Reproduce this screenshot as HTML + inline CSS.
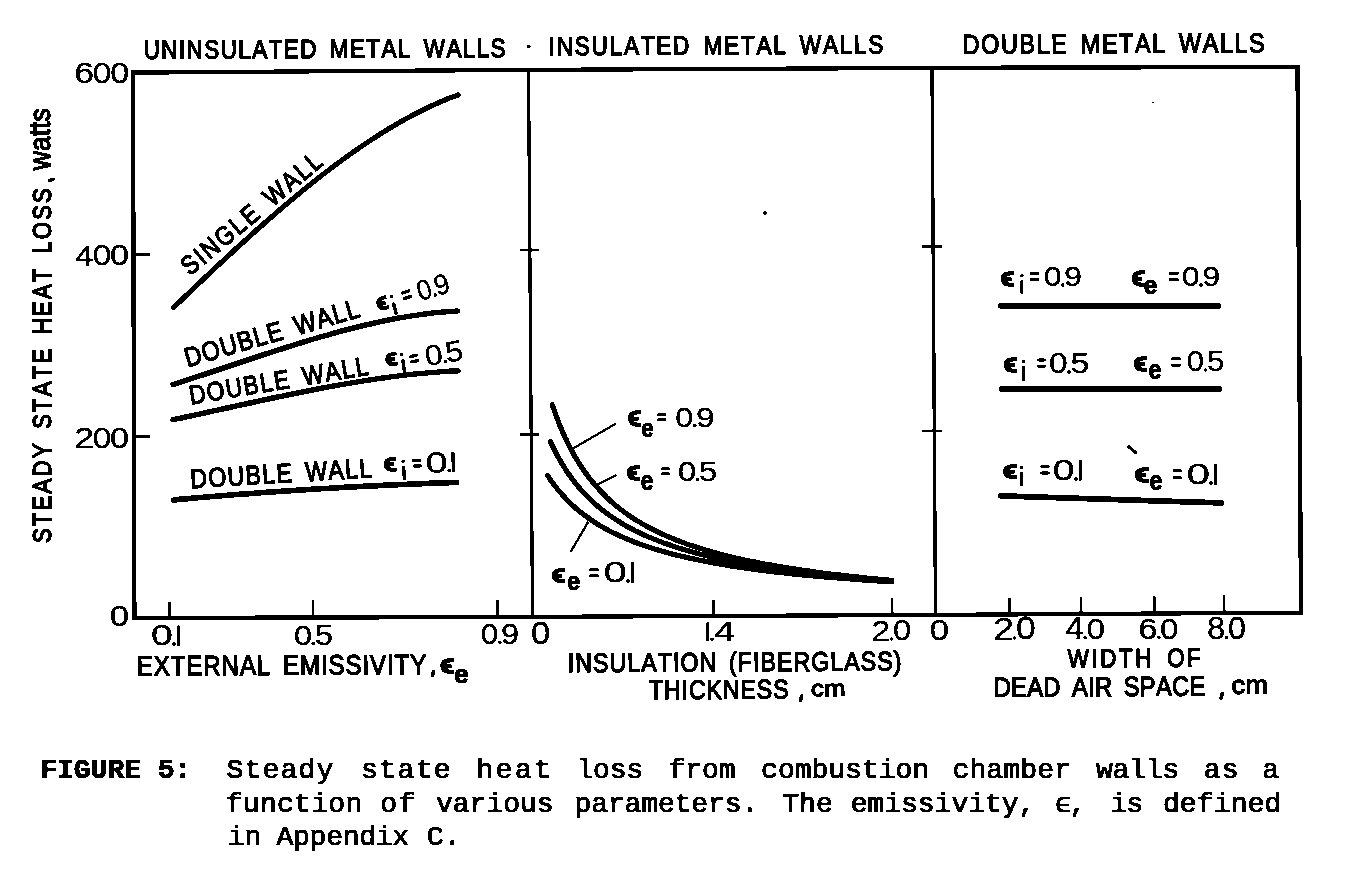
<!DOCTYPE html>
<html><head><meta charset="utf-8"><title>Figure 5</title>
<style>html,body{margin:0;padding:0;background:#fff;overflow:hidden}svg{display:block}text{font-kerning:none}</style>
</head><body>
<svg width="1360" height="881" viewBox="0 0 1360 881" style="font-kerning:none">
<defs><filter id="bin" x="0" y="0" width="1360" height="881" filterUnits="userSpaceOnUse"><feComponentTransfer><feFuncA type="discrete" tableValues="0 1"/></feComponentTransfer></filter></defs>
<g filter="url(#bin)">
<path d="M133.00 72.70 L530.00 69.90 L932.00 67.90 L1297.50 66.80 L1301.00 612.60 L935.50 614.90 L532.50 616.90 L134.40 618.00 L133.00 72.70 Z" fill="none" stroke="#000" stroke-width="4.30" stroke-linecap="square" stroke-linejoin="miter"/>
<path d="M528.50 69.90 L532.50 616.80" fill="none" stroke="#000" stroke-width="3.20" stroke-linecap="butt" stroke-linejoin="round"/>
<path d="M932.00 67.90 L935.50 614.90" fill="none" stroke="#000" stroke-width="3.30" stroke-linecap="butt" stroke-linejoin="round"/>
<path d="M134.00 254.40 L150.00 254.40" fill="none" stroke="#000" stroke-width="3.00" stroke-linecap="butt" stroke-linejoin="round"/>
<path d="M134.00 436.80 L150.00 436.80" fill="none" stroke="#000" stroke-width="3.00" stroke-linecap="butt" stroke-linejoin="round"/>
<path d="M169.50 601.50 L169.50 618.00" fill="none" stroke="#000" stroke-width="3.00" stroke-linecap="butt" stroke-linejoin="round"/>
<path d="M313.00 600.00 L313.00 618.00" fill="none" stroke="#000" stroke-width="3.00" stroke-linecap="butt" stroke-linejoin="round"/>
<path d="M497.50 600.00 L497.50 618.00" fill="none" stroke="#000" stroke-width="3.00" stroke-linecap="butt" stroke-linejoin="round"/>
<path d="M520.00 250.00 L539.00 250.00" fill="none" stroke="#000" stroke-width="2.60" stroke-linecap="butt" stroke-linejoin="round"/>
<path d="M520.00 434.60 L539.00 434.60" fill="none" stroke="#000" stroke-width="2.60" stroke-linecap="butt" stroke-linejoin="round"/>
<path d="M713.50 600.40 L713.50 616.00" fill="none" stroke="#000" stroke-width="3.00" stroke-linecap="butt" stroke-linejoin="round"/>
<path d="M892.00 598.30 L892.00 616.00" fill="none" stroke="#000" stroke-width="3.00" stroke-linecap="butt" stroke-linejoin="round"/>
<path d="M921.70 246.30 L942.00 246.30" fill="none" stroke="#000" stroke-width="2.60" stroke-linecap="butt" stroke-linejoin="round"/>
<path d="M921.70 430.90 L942.00 430.90" fill="none" stroke="#000" stroke-width="2.60" stroke-linecap="butt" stroke-linejoin="round"/>
<path d="M1009.90 598.00 L1009.90 614.00" fill="none" stroke="#000" stroke-width="3.00" stroke-linecap="butt" stroke-linejoin="round"/>
<path d="M1081.00 597.00 L1081.00 614.00" fill="none" stroke="#000" stroke-width="3.00" stroke-linecap="butt" stroke-linejoin="round"/>
<path d="M1154.20 596.40 L1154.20 614.00" fill="none" stroke="#000" stroke-width="3.00" stroke-linecap="butt" stroke-linejoin="round"/>
<path d="M1224.00 595.20 L1224.00 614.00" fill="none" stroke="#000" stroke-width="3.00" stroke-linecap="butt" stroke-linejoin="round"/>
<path d="M173.50 307.53 C174.50 306.58 177.50 303.71 179.50 301.79 C181.50 299.88 183.50 297.97 185.50 296.07 C187.50 294.16 189.50 292.26 191.50 290.36 C193.50 288.46 195.50 286.56 197.50 284.66 C199.50 282.77 201.50 280.88 203.50 278.99 C205.50 277.10 207.50 275.22 209.50 273.34 C211.50 271.46 213.50 269.58 215.50 267.71 C217.50 265.84 219.50 263.98 221.50 262.12 C223.50 260.26 225.50 258.40 227.50 256.55 C229.50 254.70 231.50 252.86 233.50 251.02 C235.50 249.18 237.50 247.35 239.50 245.53 C241.50 243.70 243.50 241.88 245.50 240.07 C247.50 238.26 249.50 236.46 251.50 234.66 C253.50 232.87 255.50 231.08 257.50 229.30 C259.50 227.51 261.50 225.74 263.50 223.98 C265.50 222.21 267.50 220.46 269.50 218.71 C271.50 216.96 273.50 215.23 275.50 213.50 C277.50 211.77 279.50 210.05 281.50 208.34 C283.50 206.63 285.50 204.93 287.50 203.24 C289.50 201.55 291.50 199.87 293.50 198.21 C295.50 196.54 297.50 194.88 299.50 193.24 C301.50 191.59 303.50 189.95 305.50 188.33 C307.50 186.71 309.50 185.10 311.50 183.50 C313.50 181.90 315.50 180.31 317.50 178.74 C319.50 177.16 321.50 175.60 323.50 174.05 C325.50 172.51 327.50 170.97 329.50 169.45 C331.50 167.93 333.50 166.42 335.50 164.93 C337.50 163.43 339.50 161.95 341.50 160.49 C343.50 159.02 345.50 157.57 347.50 156.13 C349.50 154.70 351.50 153.28 353.50 151.87 C355.50 150.47 357.50 149.08 359.50 147.70 C361.50 146.33 363.50 144.97 365.50 143.63 C367.50 142.28 369.50 140.96 371.50 139.65 C373.50 138.34 375.50 137.05 377.50 135.77 C379.50 134.50 381.50 133.24 383.50 132.00 C385.50 130.76 387.50 129.54 389.50 128.34 C391.50 127.13 393.50 125.95 395.50 124.78 C397.50 123.62 399.50 122.47 401.50 121.34 C403.50 120.21 405.50 119.10 407.50 118.01 C409.50 116.92 411.50 115.85 413.50 114.80 C415.50 113.75 417.50 112.72 419.50 111.71 C421.50 110.70 423.50 109.71 425.50 108.74 C427.50 107.77 429.50 106.82 431.50 105.90 C433.50 104.97 435.50 104.07 437.50 103.19 C439.50 102.30 441.50 101.44 443.50 100.60 C445.50 99.77 447.50 98.95 449.50 98.16 C451.50 97.36 454.08 96.39 455.50 95.85 C456.92 95.31 457.58 95.08 458.00 94.93" fill="none" stroke="#000" stroke-width="5.20" stroke-linecap="round" stroke-linejoin="round"/>
<path d="M173.00 384.50 C174.00 384.18 177.00 383.24 179.00 382.60 C181.00 381.96 183.00 381.32 185.00 380.68 C187.00 380.04 189.00 379.39 191.00 378.74 C193.00 378.09 195.00 377.44 197.00 376.79 C199.00 376.13 201.00 375.48 203.00 374.82 C205.00 374.16 207.00 373.50 209.00 372.84 C211.00 372.18 213.00 371.52 215.00 370.85 C217.00 370.19 219.00 369.52 221.00 368.86 C223.00 368.19 225.00 367.53 227.00 366.86 C229.00 366.19 231.00 365.53 233.00 364.86 C235.00 364.19 237.00 363.53 239.00 362.86 C241.00 362.19 243.00 361.53 245.00 360.86 C247.00 360.20 249.00 359.53 251.00 358.87 C253.00 358.21 255.00 357.55 257.00 356.89 C259.00 356.23 261.00 355.57 263.00 354.91 C265.00 354.26 267.00 353.60 269.00 352.95 C271.00 352.30 273.00 351.65 275.00 351.00 C277.00 350.36 279.00 349.71 281.00 349.07 C283.00 348.43 285.00 347.80 287.00 347.16 C289.00 346.53 291.00 345.90 293.00 345.27 C295.00 344.65 297.00 344.03 299.00 343.41 C301.00 342.79 303.00 342.18 305.00 341.57 C307.00 340.96 309.00 340.36 311.00 339.76 C313.00 339.16 315.00 338.57 317.00 337.98 C319.00 337.40 321.00 336.81 323.00 336.24 C325.00 335.66 327.00 335.09 329.00 334.53 C331.00 333.97 333.00 333.41 335.00 332.86 C337.00 332.31 339.00 331.76 341.00 331.23 C343.00 330.69 345.00 330.16 347.00 329.64 C349.00 329.12 351.00 328.61 353.00 328.10 C355.00 327.59 357.00 327.09 359.00 326.61 C361.00 326.12 363.00 325.63 365.00 325.16 C367.00 324.69 369.00 324.22 371.00 323.77 C373.00 323.31 375.00 322.87 377.00 322.43 C379.00 322.00 381.00 321.57 383.00 321.15 C385.00 320.73 387.00 320.33 389.00 319.93 C391.00 319.53 393.00 319.15 395.00 318.77 C397.00 318.40 399.00 318.03 401.00 317.68 C403.00 317.32 405.00 316.98 407.00 316.65 C409.00 316.32 411.00 316.00 413.00 315.69 C415.00 315.38 417.00 315.09 419.00 314.80 C421.00 314.52 423.00 314.25 425.00 313.99 C427.00 313.73 429.00 313.48 431.00 313.25 C433.00 313.01 435.00 312.79 437.00 312.59 C439.00 312.38 441.00 312.19 443.00 312.01 C445.00 311.83 447.00 311.66 449.00 311.51 C451.00 311.36 453.58 311.19 455.00 311.10 C456.42 311.01 457.08 310.98 457.50 310.95" fill="none" stroke="#000" stroke-width="5.40" stroke-linecap="round" stroke-linejoin="round"/>
<path d="M173.00 419.74 C174.00 419.53 177.00 418.89 179.00 418.47 C181.00 418.04 183.00 417.61 185.00 417.18 C187.00 416.75 189.00 416.32 191.00 415.88 C193.00 415.45 195.00 415.02 197.00 414.58 C199.00 414.15 201.00 413.71 203.00 413.27 C205.00 412.84 207.00 412.40 209.00 411.96 C211.00 411.52 213.00 411.08 215.00 410.64 C217.00 410.20 219.00 409.76 221.00 409.33 C223.00 408.89 225.00 408.45 227.00 408.01 C229.00 407.57 231.00 407.13 233.00 406.69 C235.00 406.25 237.00 405.81 239.00 405.37 C241.00 404.93 243.00 404.50 245.00 404.06 C247.00 403.62 249.00 403.19 251.00 402.75 C253.00 402.32 255.00 401.88 257.00 401.45 C259.00 401.02 261.00 400.59 263.00 400.16 C265.00 399.73 267.00 399.30 269.00 398.87 C271.00 398.45 273.00 398.02 275.00 397.60 C277.00 397.18 279.00 396.76 281.00 396.34 C283.00 395.92 285.00 395.50 287.00 395.09 C289.00 394.67 291.00 394.26 293.00 393.85 C295.00 393.44 297.00 393.04 299.00 392.63 C301.00 392.23 303.00 391.83 305.00 391.43 C307.00 391.03 309.00 390.64 311.00 390.25 C313.00 389.86 315.00 389.47 317.00 389.08 C319.00 388.70 321.00 388.32 323.00 387.94 C325.00 387.56 327.00 387.19 329.00 386.82 C331.00 386.45 333.00 386.09 335.00 385.73 C337.00 385.36 339.00 385.01 341.00 384.66 C343.00 384.30 345.00 383.95 347.00 383.61 C349.00 383.27 351.00 382.93 353.00 382.60 C355.00 382.26 357.00 381.93 359.00 381.61 C361.00 381.29 363.00 380.97 365.00 380.65 C367.00 380.34 369.00 380.03 371.00 379.73 C373.00 379.43 375.00 379.13 377.00 378.84 C379.00 378.55 381.00 378.26 383.00 377.99 C385.00 377.71 387.00 377.43 389.00 377.17 C391.00 376.90 393.00 376.64 395.00 376.39 C397.00 376.13 399.00 375.88 401.00 375.64 C403.00 375.40 405.00 375.17 407.00 374.94 C409.00 374.71 411.00 374.49 413.00 374.28 C415.00 374.07 417.00 373.86 419.00 373.66 C421.00 373.47 423.00 373.27 425.00 373.09 C427.00 372.91 429.00 372.73 431.00 372.56 C433.00 372.40 435.00 372.24 437.00 372.08 C439.00 371.93 441.00 371.79 443.00 371.65 C445.00 371.52 447.00 371.39 449.00 371.27 C451.00 371.15 453.50 371.02 455.00 370.94 C456.50 370.86 457.50 370.82 458.00 370.79" fill="none" stroke="#000" stroke-width="5.40" stroke-linecap="round" stroke-linejoin="round"/>
<path d="M173.50 499.94 C174.50 499.85 177.50 499.57 179.50 499.39 C181.50 499.21 183.50 499.03 185.50 498.86 C187.50 498.68 189.50 498.50 191.50 498.33 C193.50 498.15 195.50 497.98 197.50 497.80 C199.50 497.63 201.50 497.46 203.50 497.29 C205.50 497.12 207.50 496.95 209.50 496.78 C211.50 496.61 213.50 496.45 215.50 496.28 C217.50 496.11 219.50 495.95 221.50 495.79 C223.50 495.62 225.50 495.46 227.50 495.30 C229.50 495.14 231.50 494.98 233.50 494.82 C235.50 494.67 237.50 494.51 239.50 494.35 C241.50 494.20 243.50 494.04 245.50 493.89 C247.50 493.74 249.50 493.59 251.50 493.44 C253.50 493.29 255.50 493.14 257.50 492.99 C259.50 492.84 261.50 492.69 263.50 492.55 C265.50 492.40 267.50 492.26 269.50 492.12 C271.50 491.97 273.50 491.83 275.50 491.69 C277.50 491.55 279.50 491.41 281.50 491.27 C283.50 491.13 285.50 491.00 287.50 490.86 C289.50 490.73 291.50 490.59 293.50 490.46 C295.50 490.33 297.50 490.19 299.50 490.06 C301.50 489.93 303.50 489.80 305.50 489.68 C307.50 489.55 309.50 489.42 311.50 489.30 C313.50 489.17 315.50 489.05 317.50 488.92 C319.50 488.80 321.50 488.68 323.50 488.56 C325.50 488.44 327.50 488.32 329.50 488.20 C331.50 488.08 333.50 487.96 335.50 487.85 C337.50 487.73 339.50 487.62 341.50 487.51 C343.50 487.39 345.50 487.28 347.50 487.17 C349.50 487.06 351.50 486.95 353.50 486.84 C355.50 486.73 357.50 486.63 359.50 486.52 C361.50 486.42 363.50 486.31 365.50 486.21 C367.50 486.11 369.50 486.00 371.50 485.90 C373.50 485.80 375.50 485.70 377.50 485.61 C379.50 485.51 381.50 485.41 383.50 485.32 C385.50 485.22 387.50 485.13 389.50 485.03 C391.50 484.94 393.50 484.85 395.50 484.76 C397.50 484.67 399.50 484.58 401.50 484.49 C403.50 484.40 405.50 484.31 407.50 484.23 C409.50 484.14 411.50 484.06 413.50 483.97 C415.50 483.89 417.50 483.81 419.50 483.73 C421.50 483.65 423.50 483.57 425.50 483.49 C427.50 483.41 429.50 483.34 431.50 483.26 C433.50 483.18 435.50 483.11 437.50 483.04 C439.50 482.96 441.50 482.89 443.50 482.82 C445.50 482.75 447.50 482.68 449.50 482.61 C451.50 482.54 454.33 482.45 455.50 482.41 C456.67 482.37 456.33 482.38 456.50 482.38" fill="none" stroke="#000" stroke-width="5.60" stroke-linecap="round" stroke-linejoin="round"/>
<path d="M552.30 404.78 C552.47 405.27 552.96 406.75 553.29 407.73 C553.63 408.72 553.97 409.71 554.31 410.69 C554.66 411.68 555.01 412.66 555.37 413.65 C555.72 414.63 556.08 415.62 556.45 416.61 C556.81 417.59 557.18 418.58 557.56 419.56 C557.94 420.55 558.32 421.53 558.71 422.52 C559.10 423.50 559.49 424.49 559.89 425.47 C560.29 426.46 560.70 427.44 561.11 428.42 C561.53 429.41 561.94 430.39 562.37 431.38 C562.80 432.36 563.23 433.35 563.67 434.33 C564.11 435.31 564.56 436.30 565.01 437.28 C565.47 438.26 565.93 439.25 566.40 440.23 C566.87 441.21 567.34 442.20 567.83 443.18 C568.32 444.16 568.81 445.15 569.31 446.13 C569.81 447.11 570.33 448.10 570.85 449.08 C571.37 450.06 571.89 451.04 572.43 452.03 C572.97 453.01 573.52 453.99 574.08 454.97 C574.64 455.95 575.21 456.94 575.79 457.92 C576.36 458.90 576.95 459.88 577.56 460.86 C578.16 461.84 578.77 462.82 579.39 463.80 C580.02 464.79 580.65 465.77 581.30 466.75 C581.95 467.73 582.61 468.71 583.29 469.69 C583.96 470.67 584.65 471.65 585.35 472.63 C586.06 473.61 586.77 474.59 587.50 475.57 C588.24 476.55 588.98 477.52 589.74 478.50 C590.51 479.48 591.29 480.46 592.08 481.44 C592.88 482.42 593.69 483.40 594.52 484.37 C595.35 485.35 596.20 486.33 597.07 487.31 C597.94 488.29 598.83 489.26 599.74 490.24 C600.65 491.22 601.58 492.19 602.53 493.17 C603.48 494.15 604.46 495.12 605.46 496.10 C606.46 497.08 607.48 498.05 608.53 499.03 C609.58 500.00 610.65 500.98 611.75 501.95 C612.86 502.93 613.98 503.90 615.14 504.88 C616.31 505.85 617.49 506.82 618.72 507.80 C619.94 508.77 621.19 509.74 622.48 510.72 C623.77 511.69 625.10 512.66 626.46 513.63 C627.82 514.61 629.22 515.58 630.67 516.55 C632.11 517.52 633.59 518.49 635.12 519.46 C636.65 520.43 638.22 521.40 639.85 522.37 C641.47 523.34 643.14 524.31 644.87 525.28 C646.60 526.25 648.38 527.22 650.22 528.18 C652.06 529.15 653.96 530.12 655.92 531.08 C657.89 532.05 659.92 533.02 662.02 533.98 C664.13 534.95 666.30 535.91 668.56 536.88 C670.82 537.84 673.15 538.81 675.58 539.77 C678.01 540.73 680.54 541.70 683.13 542.66 C685.73 543.61 688.47 544.58 691.13 545.48 C693.80 546.39 696.47 547.26 699.13 548.10 C701.80 548.95 704.47 549.75 707.13 550.54 C709.80 551.32 712.47 552.07 715.13 552.80 C717.80 553.53 720.47 554.24 723.13 554.92 C725.80 555.60 728.47 556.26 731.13 556.90 C733.80 557.54 736.47 558.16 739.13 558.76 C741.80 559.36 744.47 559.94 747.13 560.50 C749.80 561.07 752.47 561.61 755.13 562.14 C757.80 562.68 760.47 563.19 763.13 563.69 C765.80 564.19 768.47 564.68 771.13 565.16 C773.80 565.63 776.47 566.09 779.13 566.54 C781.80 566.99 784.47 567.43 787.13 567.85 C789.80 568.28 792.47 568.69 795.13 569.10 C797.80 569.50 800.47 569.89 803.13 570.28 C805.80 570.66 808.47 571.04 811.13 571.40 C813.80 571.77 816.47 572.13 819.13 572.47 C821.80 572.82 824.47 573.16 827.13 573.50 C829.80 573.83 832.47 574.15 835.13 574.47 C837.80 574.79 840.47 575.10 843.13 575.40 C845.80 575.71 848.47 576.00 851.13 576.30 C853.80 576.59 856.47 576.87 859.13 577.15 C861.80 577.43 864.47 577.70 867.13 577.97 C869.80 578.24 872.47 578.50 875.13 578.75 C877.80 579.01 880.47 579.26 883.13 579.51 C885.80 579.75 889.74 580.10 891.13 580.23 C892.53 580.36 891.44 580.26 891.50 580.26" fill="none" stroke="#000" stroke-width="5.20" stroke-linecap="round" stroke-linejoin="round"/>
<path d="M550.40 441.67 C550.63 442.16 551.31 443.63 551.77 444.61 C552.24 445.60 552.71 446.58 553.19 447.56 C553.67 448.54 554.16 449.53 554.66 450.51 C555.16 451.49 555.67 452.47 556.18 453.45 C556.70 454.44 557.23 455.42 557.76 456.40 C558.30 457.38 558.85 458.36 559.40 459.34 C559.96 460.32 560.53 461.30 561.11 462.28 C561.69 463.27 562.28 464.25 562.88 465.23 C563.48 466.21 564.10 467.19 564.72 468.17 C565.35 469.15 565.99 470.13 566.64 471.10 C567.29 472.08 567.96 473.06 568.64 474.04 C569.32 475.02 570.02 476.00 570.73 476.98 C571.44 477.96 572.16 478.94 572.90 479.91 C573.64 480.89 574.40 481.87 575.18 482.85 C575.95 483.83 576.74 484.80 577.55 485.78 C578.36 486.76 579.19 487.73 580.04 488.71 C580.89 489.69 581.76 490.66 582.65 491.64 C583.54 492.62 584.45 493.59 585.38 494.57 C586.32 495.54 587.27 496.52 588.26 497.49 C589.24 498.47 590.24 499.44 591.28 500.42 C592.31 501.39 593.37 502.37 594.46 503.34 C595.55 504.31 596.66 505.29 597.81 506.26 C598.96 507.23 600.13 508.20 601.35 509.18 C602.56 510.15 603.80 511.12 605.09 512.09 C606.37 513.06 607.69 514.03 609.05 515.01 C610.41 515.98 611.81 516.95 613.25 517.92 C614.69 518.89 616.18 519.85 617.71 520.82 C619.25 521.79 620.83 522.76 622.46 523.73 C624.10 524.70 625.78 525.66 627.53 526.63 C629.27 527.60 631.07 528.56 632.94 529.53 C634.81 530.50 636.73 531.46 638.73 532.43 C640.74 533.39 642.80 534.35 644.96 535.32 C647.11 536.28 649.33 537.24 651.65 538.21 C653.97 539.17 656.37 540.13 658.88 541.09 C661.38 542.05 664.06 543.04 666.70 543.97 C669.33 544.90 672.03 545.81 674.70 546.68 C677.36 547.56 680.03 548.39 682.70 549.19 C685.36 550.00 688.03 550.77 690.70 551.52 C693.36 552.27 696.03 552.98 698.70 553.68 C701.36 554.38 704.03 555.04 706.70 555.69 C709.36 556.34 712.03 556.97 714.70 557.57 C717.36 558.18 720.03 558.77 722.70 559.33 C725.36 559.90 728.03 560.45 730.70 560.99 C733.36 561.52 736.03 562.04 738.70 562.54 C741.36 563.04 744.03 563.53 746.70 564.00 C749.36 564.47 752.03 564.93 754.70 565.38 C757.36 565.83 760.03 566.26 762.70 566.68 C765.36 567.11 768.03 567.52 770.70 567.92 C773.36 568.32 776.03 568.70 778.70 569.08 C781.36 569.46 784.03 569.83 786.70 570.19 C789.36 570.55 792.03 570.91 794.70 571.25 C797.36 571.59 800.03 571.92 802.70 572.25 C805.36 572.58 808.03 572.90 810.70 573.21 C813.36 573.52 816.03 573.82 818.70 574.12 C821.36 574.42 824.03 574.71 826.70 574.99 C829.36 575.27 832.03 575.55 834.70 575.82 C837.36 576.09 840.03 576.36 842.70 576.62 C845.36 576.88 848.03 577.13 850.70 577.38 C853.36 577.63 856.03 577.87 858.70 578.11 C861.36 578.35 864.03 578.58 866.70 578.81 C869.36 579.04 872.03 579.26 874.70 579.48 C877.36 579.70 880.03 579.92 882.70 580.13 C885.36 580.34 889.23 580.64 890.70 580.75 C892.16 580.87 891.37 580.81 891.50 580.82" fill="none" stroke="#000" stroke-width="5.20" stroke-linecap="round" stroke-linejoin="round"/>
<path d="M547.50 475.28 C547.83 475.77 548.79 477.24 549.45 478.21 C550.12 479.19 550.80 480.17 551.49 481.15 C552.19 482.12 552.90 483.10 553.63 484.08 C554.36 485.05 555.10 486.03 555.86 487.01 C556.63 487.98 557.41 488.96 558.21 489.94 C559.01 490.91 559.83 491.89 560.67 492.86 C561.51 493.84 562.38 494.81 563.26 495.79 C564.15 496.76 565.05 497.73 565.99 498.71 C566.92 499.68 567.87 500.66 568.86 501.63 C569.84 502.60 570.85 503.57 571.89 504.55 C572.93 505.52 573.99 506.49 575.09 507.46 C576.19 508.43 577.31 509.41 578.48 510.38 C579.64 511.35 580.84 512.32 582.07 513.29 C583.30 514.26 584.57 515.23 585.89 516.20 C587.20 517.17 588.55 518.13 589.94 519.10 C591.34 520.07 592.78 521.04 594.27 522.00 C595.76 522.97 597.30 523.94 598.89 524.90 C600.49 525.87 602.13 526.84 603.84 527.80 C605.55 528.77 607.31 529.73 609.14 530.69 C610.98 531.66 612.87 532.62 614.85 533.58 C616.83 534.54 618.87 535.51 621.00 536.47 C623.14 537.43 625.35 538.39 627.66 539.35 C629.97 540.31 632.36 541.27 634.88 542.22 C637.39 543.18 640.09 544.17 642.73 545.09 C645.38 546.02 648.07 546.92 650.73 547.77 C653.40 548.63 656.07 549.45 658.73 550.24 C661.40 551.02 664.07 551.78 666.73 552.51 C669.40 553.24 672.07 553.93 674.73 554.61 C677.40 555.28 680.07 555.93 682.73 556.56 C685.40 557.19 688.07 557.79 690.73 558.37 C693.40 558.96 696.07 559.52 698.73 560.07 C701.40 560.61 704.07 561.14 706.73 561.65 C709.40 562.16 712.07 562.65 714.73 563.13 C717.40 563.61 720.07 564.07 722.73 564.52 C725.40 564.97 728.07 565.41 730.73 565.83 C733.40 566.26 736.07 566.67 738.73 567.07 C741.40 567.47 744.07 567.86 746.73 568.23 C749.40 568.61 752.07 568.98 754.73 569.34 C757.40 569.69 760.07 570.04 762.73 570.38 C765.40 570.72 768.07 571.05 770.73 571.37 C773.40 571.69 776.07 572.00 778.73 572.31 C781.40 572.61 784.07 572.91 786.73 573.20 C789.40 573.49 792.07 573.78 794.73 574.05 C797.40 574.33 800.07 574.60 802.73 574.87 C805.40 575.13 808.07 575.39 810.73 575.64 C813.40 575.89 816.07 576.14 818.73 576.38 C821.40 576.62 824.07 576.86 826.73 577.09 C829.40 577.32 832.07 577.54 834.73 577.76 C837.40 577.98 840.07 578.20 842.73 578.41 C845.40 578.62 848.07 578.83 850.73 579.03 C853.40 579.24 856.07 579.44 858.73 579.63 C861.40 579.83 864.07 580.02 866.73 580.20 C869.40 580.39 872.07 580.58 874.73 580.76 C877.40 580.94 880.07 581.11 882.73 581.29 C885.40 581.46 889.27 581.70 890.73 581.80 C892.19 581.89 891.37 581.84 891.50 581.84" fill="none" stroke="#000" stroke-width="5.20" stroke-linecap="round" stroke-linejoin="round"/>
<path d="M571.70 449.20 L616.00 423.50" fill="none" stroke="#000" stroke-width="2.30" stroke-linecap="butt" stroke-linejoin="round"/>
<path d="M595.60 485.50 L616.60 474.80" fill="none" stroke="#000" stroke-width="2.30" stroke-linecap="butt" stroke-linejoin="round"/>
<path d="M588.20 521.90 L570.60 552.00" fill="none" stroke="#000" stroke-width="2.30" stroke-linecap="butt" stroke-linejoin="round"/>
<path d="M1000.90 305.80 L1218.10 305.90" fill="none" stroke="#000" stroke-width="5.80" stroke-linecap="round" stroke-linejoin="round"/>
<path d="M1001.90 388.90 L1219.10 388.90" fill="none" stroke="#000" stroke-width="5.80" stroke-linecap="round" stroke-linejoin="round"/>
<path d="M1000.90 495.90 L1221.10 502.90" fill="none" stroke="#000" stroke-width="5.80" stroke-linecap="round" stroke-linejoin="round"/>
<path d="M1128.5 446.5 L1135.5 452.5" stroke="#000" stroke-width="3" stroke-linecap="round"/>
<circle cx="765" cy="213" r="1.8"/>
<circle cx="1153" cy="102.8" r="0.9"/>
<text x="143.67" y="58.84" font-family="Liberation Sans, sans-serif" font-weight="normal" font-size="26.13" letter-spacing="1.65" word-spacing="5.00" textLength="363.38" lengthAdjust="spacingAndGlyphs" stroke="#000" stroke-width="1.40" transform="rotate(-0.30 144.70 58.84)">UNINSULATED METAL WALLS</text>
<text x="548.62" y="55.24" font-family="Liberation Sans, sans-serif" font-weight="normal" font-size="26.27" letter-spacing="2.03" word-spacing="5.00" textLength="336.57" lengthAdjust="spacingAndGlyphs" stroke="#000" stroke-width="1.40" transform="rotate(-0.30 550.00 55.24)">INSULATED METAL WALLS</text>
<text x="962.79" y="53.64" font-family="Liberation Sans, sans-serif" font-weight="normal" font-size="27.12" letter-spacing="1.89" word-spacing="5.00" textLength="303.51" lengthAdjust="spacingAndGlyphs" stroke="#000" stroke-width="1.40" transform="rotate(-0.30 964.00 53.64)">DOUBLE METAL WALLS</text>
<circle cx="528.8" cy="46.4" r="2"/>
<text x="-9.98" y="10.16" font-family="Liberation Sans, sans-serif" font-weight="normal" font-size="29.52" letter-spacing="0.00" word-spacing="0.00" textLength="19.73" lengthAdjust="spacingAndGlyphs" stroke="#000" stroke-width="0.30" transform="translate(84.33 72.40) rotate(0.00)">6</text>
<text x="-9.52" y="10.16" font-family="Liberation Sans, sans-serif" font-weight="normal" font-size="29.52" letter-spacing="0.00" word-spacing="0.00" textLength="19.04" lengthAdjust="spacingAndGlyphs" stroke="#000" stroke-width="0.30" transform="translate(102.00 72.40) rotate(0.00)">0</text>
<text x="-9.52" y="10.16" font-family="Liberation Sans, sans-serif" font-weight="normal" font-size="29.52" letter-spacing="0.00" word-spacing="0.00" textLength="19.04" lengthAdjust="spacingAndGlyphs" stroke="#000" stroke-width="0.30" transform="translate(119.67 72.40) rotate(0.00)">0</text>
<text x="-8.93" y="10.30" font-family="Liberation Sans, sans-serif" font-weight="normal" font-size="29.94" letter-spacing="0.00" word-spacing="0.00" textLength="18.06" lengthAdjust="spacingAndGlyphs" stroke="#000" stroke-width="0.30" transform="translate(84.23 255.45) rotate(0.00)">4</text>
<text x="-9.52" y="10.02" font-family="Liberation Sans, sans-serif" font-weight="normal" font-size="29.10" letter-spacing="0.00" word-spacing="0.00" textLength="19.04" lengthAdjust="spacingAndGlyphs" stroke="#000" stroke-width="0.30" transform="translate(101.90 255.45) rotate(0.00)">0</text>
<text x="-9.52" y="10.02" font-family="Liberation Sans, sans-serif" font-weight="normal" font-size="29.10" letter-spacing="0.00" word-spacing="0.00" textLength="19.04" lengthAdjust="spacingAndGlyphs" stroke="#000" stroke-width="0.30" transform="translate(119.57 255.45) rotate(0.00)">0</text>
<text x="-9.99" y="10.45" font-family="Liberation Sans, sans-serif" font-weight="normal" font-size="29.93" letter-spacing="0.00" word-spacing="0.00" textLength="19.98" lengthAdjust="spacingAndGlyphs" stroke="#000" stroke-width="0.30" transform="translate(84.23 437.40) rotate(0.00)">2</text>
<text x="-9.52" y="10.16" font-family="Liberation Sans, sans-serif" font-weight="normal" font-size="29.52" letter-spacing="0.00" word-spacing="0.00" textLength="19.04" lengthAdjust="spacingAndGlyphs" stroke="#000" stroke-width="0.30" transform="translate(101.90 437.40) rotate(0.00)">0</text>
<text x="-9.52" y="10.16" font-family="Liberation Sans, sans-serif" font-weight="normal" font-size="29.52" letter-spacing="0.00" word-spacing="0.00" textLength="19.04" lengthAdjust="spacingAndGlyphs" stroke="#000" stroke-width="0.30" transform="translate(119.57 437.40) rotate(0.00)">0</text>
<text x="-9.71" y="10.02" font-family="Liberation Sans, sans-serif" font-weight="normal" font-size="29.10" letter-spacing="0.00" word-spacing="0.00" textLength="19.43" lengthAdjust="spacingAndGlyphs" stroke="#000" stroke-width="0.30" transform="translate(119.40 616.35) rotate(0.00)">0</text>
<text x="-10.94" y="9.87" font-family="Liberation Sans, sans-serif" font-weight="normal" font-size="28.67" letter-spacing="0.00" word-spacing="0.00" textLength="21.87" lengthAdjust="spacingAndGlyphs" stroke="#000" stroke-width="0.30" transform="translate(161.95 635.60) rotate(0.00)">0</text>
<circle cx="174.10" cy="644.10" r="1.80"/>
<path d="M178.50 626.90 L178.50 644.30" stroke="#000" stroke-width="3.40" stroke-linecap="round"/>
<text x="-9.02" y="9.82" font-family="Liberation Sans, sans-serif" font-weight="normal" font-size="28.53" letter-spacing="0.00" word-spacing="0.00" textLength="18.03" lengthAdjust="spacingAndGlyphs" stroke="#000" stroke-width="0.30" transform="translate(302.90 634.85) rotate(0.00)">0</text>
<circle cx="313.40" cy="643.30" r="1.80"/>
<text x="-9.06" y="9.82" font-family="Liberation Sans, sans-serif" font-weight="normal" font-size="28.95" letter-spacing="0.00" word-spacing="0.00" textLength="18.18" lengthAdjust="spacingAndGlyphs" stroke="#000" stroke-width="0.30" transform="translate(323.90 634.85) rotate(0.00)">5</text>
<text x="-8.78" y="10.21" font-family="Liberation Sans, sans-serif" font-weight="normal" font-size="29.66" letter-spacing="0.00" word-spacing="0.00" textLength="17.57" lengthAdjust="spacingAndGlyphs" stroke="#000" stroke-width="0.30" transform="translate(489.50 633.35) rotate(0.00)">0</text>
<circle cx="499.80" cy="642.20" r="1.80"/>
<text x="-9.08" y="10.21" font-family="Liberation Sans, sans-serif" font-weight="normal" font-size="29.66" letter-spacing="0.00" word-spacing="0.00" textLength="18.18" lengthAdjust="spacingAndGlyphs" stroke="#000" stroke-width="0.30" transform="translate(510.10 633.35) rotate(0.00)">9</text>
<text x="-9.66" y="10.55" font-family="Liberation Sans, sans-serif" font-weight="normal" font-size="30.65" letter-spacing="0.00" word-spacing="0.00" textLength="19.31" lengthAdjust="spacingAndGlyphs" stroke="#000" stroke-width="0.30" transform="translate(540.55 633.00) rotate(0.00)">0</text>
<path d="M707.60 623.60 L707.60 639.50" stroke="#000" stroke-width="3.40" stroke-linecap="round"/>
<circle cx="712.00" cy="639.30" r="1.80"/>
<text x="-10.47" y="9.40" font-family="Liberation Sans, sans-serif" font-weight="normal" font-size="27.33" letter-spacing="0.00" word-spacing="0.00" textLength="21.19" lengthAdjust="spacingAndGlyphs" stroke="#000" stroke-width="0.30" transform="translate(724.35 631.55) rotate(0.00)">4</text>
<text x="-9.55" y="10.50" font-family="Liberation Sans, sans-serif" font-weight="normal" font-size="30.08" letter-spacing="0.00" word-spacing="0.00" textLength="19.11" lengthAdjust="spacingAndGlyphs" stroke="#000" stroke-width="0.30" transform="translate(880.88 630.25) rotate(0.00)">2</text>
<circle cx="891.45" cy="639.10" r="1.80"/>
<text x="-9.10" y="10.21" font-family="Liberation Sans, sans-serif" font-weight="normal" font-size="29.66" letter-spacing="0.00" word-spacing="0.00" textLength="18.21" lengthAdjust="spacingAndGlyphs" stroke="#000" stroke-width="0.30" transform="translate(902.03 630.25) rotate(0.00)">0</text>
<text x="-9.66" y="10.21" font-family="Liberation Sans, sans-serif" font-weight="normal" font-size="29.66" letter-spacing="0.00" word-spacing="0.00" textLength="19.31" lengthAdjust="spacingAndGlyphs" stroke="#000" stroke-width="0.30" transform="translate(939.45 629.45) rotate(0.00)">0</text>
<text x="-10.35" y="10.80" font-family="Liberation Sans, sans-serif" font-weight="normal" font-size="30.93" letter-spacing="0.00" word-spacing="0.00" textLength="20.69" lengthAdjust="spacingAndGlyphs" stroke="#000" stroke-width="0.30" transform="translate(1003.52 628.85) rotate(0.00)">2</text>
<circle cx="1014.75" cy="638.00" r="1.80"/>
<text x="-9.86" y="10.50" font-family="Liberation Sans, sans-serif" font-weight="normal" font-size="30.51" letter-spacing="0.00" word-spacing="0.00" textLength="19.72" lengthAdjust="spacingAndGlyphs" stroke="#000" stroke-width="0.30" transform="translate(1025.97 628.85) rotate(0.00)">0</text>
<text x="-8.70" y="10.60" font-family="Liberation Sans, sans-serif" font-weight="normal" font-size="30.81" letter-spacing="0.00" word-spacing="0.00" textLength="17.60" lengthAdjust="spacingAndGlyphs" stroke="#000" stroke-width="0.30" transform="translate(1074.42 628.75) rotate(0.00)">4</text>
<circle cx="1085.15" cy="637.70" r="1.80"/>
<text x="-9.28" y="10.31" font-family="Liberation Sans, sans-serif" font-weight="normal" font-size="29.94" letter-spacing="0.00" word-spacing="0.00" textLength="18.56" lengthAdjust="spacingAndGlyphs" stroke="#000" stroke-width="0.30" transform="translate(1095.88 628.75) rotate(0.00)">0</text>
<text x="-9.73" y="10.31" font-family="Liberation Sans, sans-serif" font-weight="normal" font-size="29.94" letter-spacing="0.00" word-spacing="0.00" textLength="19.22" lengthAdjust="spacingAndGlyphs" stroke="#000" stroke-width="0.30" transform="translate(1147.92 628.25) rotate(0.00)">6</text>
<circle cx="1158.65" cy="637.20" r="1.80"/>
<text x="-9.28" y="10.31" font-family="Liberation Sans, sans-serif" font-weight="normal" font-size="29.94" letter-spacing="0.00" word-spacing="0.00" textLength="18.56" lengthAdjust="spacingAndGlyphs" stroke="#000" stroke-width="0.30" transform="translate(1169.38 628.25) rotate(0.00)">0</text>
<text x="-9.16" y="10.55" font-family="Liberation Sans, sans-serif" font-weight="normal" font-size="30.65" letter-spacing="0.00" word-spacing="0.00" textLength="18.31" lengthAdjust="spacingAndGlyphs" stroke="#000" stroke-width="0.30" transform="translate(1216.08 628.00) rotate(0.00)">8</text>
<circle cx="1226.55" cy="637.20" r="1.80"/>
<text x="-8.99" y="10.55" font-family="Liberation Sans, sans-serif" font-weight="normal" font-size="30.65" letter-spacing="0.00" word-spacing="0.00" textLength="17.98" lengthAdjust="spacingAndGlyphs" stroke="#000" stroke-width="0.30" transform="translate(1237.03 628.00) rotate(0.00)">0</text>
<text x="136.82" y="675.60" font-family="Liberation Sans, sans-serif" font-weight="normal" font-size="28.05" letter-spacing="1.02" word-spacing="5.00" textLength="290.38" lengthAdjust="spacingAndGlyphs" stroke="#000" stroke-width="1.40" transform="rotate(-0.30 138.10 675.60)">EXTERNAL EMISSIVITY</text>
<path d="M433.50 671.50 L432.50 675.50" stroke="#000" stroke-width="3.60" stroke-linecap="round"/>
<text x="-7.23" y="6.95" font-family="Liberation Sans, sans-serif" font-weight="bold" font-size="26.31" letter-spacing="0.00" word-spacing="0.00" textLength="14.50" lengthAdjust="spacingAndGlyphs" stroke="#000" stroke-width="1.60" transform="translate(447.15 665.95) rotate(0.00)">ϵ</text>
<text x="-7.44" y="6.94" font-family="Liberation Sans, sans-serif" font-weight="bold" font-size="26.28" letter-spacing="0.00" word-spacing="0.00" textLength="14.74" lengthAdjust="spacingAndGlyphs" stroke="#000" stroke-width="1.00" transform="translate(461.50 676.40) rotate(0.00)">e</text>
<text x="567.87" y="672.10" font-family="Liberation Sans, sans-serif" font-weight="normal" font-size="26.89" letter-spacing="1.24" word-spacing="5.00" textLength="334.63" lengthAdjust="spacingAndGlyphs" stroke="#000" stroke-width="1.40" transform="rotate(-0.30 569.30 672.10)">INSULATION (FIBERGLASS)</text>
<text x="648.88" y="699.20" font-family="Liberation Sans, sans-serif" font-weight="normal" font-size="26.74" letter-spacing="1.17" word-spacing="0.00" textLength="140.68" lengthAdjust="spacingAndGlyphs" stroke="#000" stroke-width="1.40" transform="rotate(-0.30 648.70 699.20)">THICKNESS</text>
<path d="M801.80 696.00 L800.50 700.50" stroke="#000" stroke-width="3.60" stroke-linecap="round"/>
<text x="811.02" y="696.08" font-family="Liberation Sans, sans-serif" font-weight="normal" font-size="22.27" letter-spacing="0.50" word-spacing="0.00" textLength="35.03" lengthAdjust="spacingAndGlyphs" stroke="#000" stroke-width="1.40" transform="rotate(-0.30 811.40 696.08)">cm</text>
<text x="1067.80" y="667.40" font-family="Liberation Sans, sans-serif" font-weight="normal" font-size="26.02" letter-spacing="3.00" word-spacing="5.00" textLength="135.58" lengthAdjust="spacingAndGlyphs" stroke="#000" stroke-width="1.40" transform="rotate(-0.30 1067.20 667.40)">WIDTH OF</text>
<text x="993.65" y="696.70" font-family="Liberation Sans, sans-serif" font-weight="normal" font-size="27.62" letter-spacing="0.34" word-spacing="5.00" textLength="211.96" lengthAdjust="spacingAndGlyphs" stroke="#000" stroke-width="1.40" transform="rotate(-0.30 994.90 696.70)">DEAD AIR SPACE</text>
<path d="M1222.30 693.50 L1221.00 698.00" stroke="#000" stroke-width="3.60" stroke-linecap="round"/>
<text x="1231.56" y="693.65" font-family="Liberation Sans, sans-serif" font-weight="normal" font-size="25.55" letter-spacing="0.50" word-spacing="0.00" textLength="36.84" lengthAdjust="spacingAndGlyphs" stroke="#000" stroke-width="1.40" transform="rotate(-0.30 1232.00 693.65)">cm</text>
<text x="-0.30" y="-0.70" font-family="Liberation Sans, sans-serif" font-weight="normal" font-size="25.73" letter-spacing="2.53" word-spacing="5.00" textLength="356.99" lengthAdjust="spacingAndGlyphs" stroke="#000" stroke-width="1.40" transform="translate(51.4 542.7) rotate(-90)">STEADY STATE HEAT LOSS</text>
<path d="M49.50 180.50 L53.30 179.20" stroke="#000" stroke-width="3.40" stroke-linecap="round"/>
<text x="372.54" y="-0.99" font-family="Liberation Sans, sans-serif" font-weight="normal" font-size="29.26" letter-spacing="0.00" word-spacing="0.00" textLength="61.92" lengthAdjust="spacingAndGlyphs" stroke="#000" stroke-width="1.40" transform="translate(51.4 542.7) rotate(-90)">watts</text>
<text x="-19.33" y="-0.70" font-family="Liberation Sans, sans-serif" font-weight="normal" font-size="26.31" letter-spacing="2.30" word-spacing="5.00" textLength="176.96" lengthAdjust="spacingAndGlyphs" stroke="#000" stroke-width="1.40" transform="translate(205.3 264.5) rotate(-39.9)">SINGLE WALL</text>
<text x="-1.21" y="-0.70" font-family="Liberation Sans, sans-serif" font-weight="normal" font-size="27.04" letter-spacing="1.31" word-spacing="5.00" textLength="182.11" lengthAdjust="spacingAndGlyphs" stroke="#000" stroke-width="1.40" transform="translate(188.75 367.5) rotate(-16.25)">DOUBLE WALL</text>
<text x="-1.16" y="-0.70" font-family="Liberation Sans, sans-serif" font-weight="normal" font-size="26.31" letter-spacing="1.87" word-spacing="5.00" textLength="182.91" lengthAdjust="spacingAndGlyphs" stroke="#000" stroke-width="1.40" transform="translate(191.9 405) rotate(-9.56)">DOUBLE WALL</text>
<text x="-1.21" y="-0.70" font-family="Liberation Sans, sans-serif" font-weight="normal" font-size="27.04" letter-spacing="1.45" word-spacing="5.00" textLength="183.43" lengthAdjust="spacingAndGlyphs" stroke="#000" stroke-width="1.40" transform="translate(192 488.8) rotate(-3.45)">DOUBLE WALL</text>
<text x="-5.92" y="6.45" font-family="Liberation Sans, sans-serif" font-weight="bold" font-size="24.42" letter-spacing="0.00" word-spacing="0.00" textLength="11.86" lengthAdjust="spacingAndGlyphs" stroke="#000" stroke-width="1.60" transform="translate(382.20 303.40) rotate(-16.00)">ϵ</text>
<circle cx="391.40" cy="296.40" r="1.70"/>
<path d="M393.60 304.00 L396.00 313.00" stroke="#000" stroke-width="3.40" stroke-linecap="round"/>
<path d="M402.50 293.00 L408.80 291.00" stroke="#000" stroke-width="3.40" stroke-linecap="round"/>
<path d="M404.50 298.30 L410.50 296.30" stroke="#000" stroke-width="3.40" stroke-linecap="round"/>
<g transform="translate(432.9 287) rotate(-17)">
<text x="-7.33" y="9.77" font-family="Liberation Sans, sans-serif" font-weight="normal" font-size="28.39" letter-spacing="0.00" word-spacing="0.00" textLength="14.66" lengthAdjust="spacingAndGlyphs" stroke="#000" stroke-width="0.30" transform="translate(-9.05 0.00) rotate(0.00)">0</text>
<circle cx="0.00" cy="8.40" r="1.80"/>
<text x="-7.58" y="9.77" font-family="Liberation Sans, sans-serif" font-weight="normal" font-size="28.39" letter-spacing="0.00" word-spacing="0.00" textLength="15.17" lengthAdjust="spacingAndGlyphs" stroke="#000" stroke-width="0.30" transform="translate(9.05 0.00) rotate(0.00)">9</text>
</g>
<text x="-6.22" y="6.20" font-family="Liberation Sans, sans-serif" font-weight="bold" font-size="23.47" letter-spacing="0.00" word-spacing="0.00" textLength="12.46" lengthAdjust="spacingAndGlyphs" stroke="#000" stroke-width="1.60" transform="translate(391.40 359.40) rotate(-9.50)">ϵ</text>
<circle cx="401.50" cy="354.80" r="1.70"/>
<path d="M403.00 361.00 L404.50 372.00" stroke="#000" stroke-width="3.40" stroke-linecap="round"/>
<path d="M410.80 356.60 L416.50 355.20" stroke="#000" stroke-width="3.30" stroke-linecap="round"/>
<path d="M411.50 361.80 L417.50 360.60" stroke="#000" stroke-width="3.30" stroke-linecap="round"/>
<g transform="translate(444 353.2) rotate(-9.5)">
<text x="-8.78" y="9.97" font-family="Liberation Sans, sans-serif" font-weight="normal" font-size="28.95" letter-spacing="0.00" word-spacing="0.00" textLength="17.57" lengthAdjust="spacingAndGlyphs" stroke="#000" stroke-width="0.30" transform="translate(-10.30 0.00) rotate(0.00)">0</text>
<circle cx="-0.00" cy="8.60" r="1.80"/>
<text x="-8.83" y="9.96" font-family="Liberation Sans, sans-serif" font-weight="normal" font-size="29.38" letter-spacing="0.00" word-spacing="0.00" textLength="17.71" lengthAdjust="spacingAndGlyphs" stroke="#000" stroke-width="0.30" transform="translate(10.30 0.00) rotate(0.00)">5</text>
</g>
<text x="-6.52" y="6.60" font-family="Liberation Sans, sans-serif" font-weight="bold" font-size="24.98" letter-spacing="0.00" word-spacing="0.00" textLength="13.06" lengthAdjust="spacingAndGlyphs" stroke="#000" stroke-width="1.60" transform="translate(390.30 464.40) rotate(-2.50)">ϵ</text>
<circle cx="403.10" cy="461.40" r="1.80"/>
<path d="M403.60 467.50 L404.40 478.50" stroke="#000" stroke-width="3.40" stroke-linecap="round"/>
<path d="M413.50 460.60 L419.50 460.40" stroke="#000" stroke-width="3.30" stroke-linecap="round"/>
<path d="M414.50 466.00 L420.50 465.80" stroke="#000" stroke-width="3.30" stroke-linecap="round"/>
<g transform="translate(441 462.4) rotate(-2.5)">
<text x="-10.99" y="9.97" font-family="Liberation Sans, sans-serif" font-weight="normal" font-size="28.95" letter-spacing="0.00" word-spacing="0.00" textLength="21.99" lengthAdjust="spacingAndGlyphs" stroke="#000" stroke-width="0.30" transform="translate(-4.40 0.00) rotate(0.00)">0</text>
<circle cx="7.80" cy="8.60" r="1.80"/>
<path d="M12.20 -8.80 L12.20 8.80" stroke="#000" stroke-width="3.40" stroke-linecap="round"/>
</g>
<text x="-6.87" y="7.40" font-family="Liberation Sans, sans-serif" font-weight="bold" font-size="28.01" letter-spacing="0.00" word-spacing="0.00" textLength="13.78" lengthAdjust="spacingAndGlyphs" stroke="#000" stroke-width="1.60" transform="translate(634.55 419.00) rotate(0.00)">ϵ</text>
<text x="-5.98" y="6.90" font-family="Liberation Sans, sans-serif" font-weight="bold" font-size="26.10" letter-spacing="0.00" word-spacing="0.00" textLength="11.86" lengthAdjust="spacingAndGlyphs" stroke="#000" stroke-width="1.00" transform="translate(647.35 430.35) rotate(0.00)">e</text>
<g transform="translate(661.55 417.00) rotate(0.00)"><path d="M-3.05 -2.50 H3.05 M-3.05 2.50 H3.05" stroke="#000" stroke-width="3.00" stroke-linecap="round"/></g>
<text x="-9.05" y="9.77" font-family="Liberation Sans, sans-serif" font-weight="normal" font-size="28.39" letter-spacing="0.00" word-spacing="0.00" textLength="18.09" lengthAdjust="spacingAndGlyphs" stroke="#000" stroke-width="0.30" transform="translate(684.23 417.00) rotate(0.00)">0</text>
<circle cx="694.75" cy="425.40" r="1.80"/>
<text x="-9.35" y="9.77" font-family="Liberation Sans, sans-serif" font-weight="normal" font-size="28.39" letter-spacing="0.00" word-spacing="0.00" textLength="18.72" lengthAdjust="spacingAndGlyphs" stroke="#000" stroke-width="0.30" transform="translate(705.28 417.00) rotate(0.00)">9</text>
<text x="-6.87" y="6.90" font-family="Liberation Sans, sans-serif" font-weight="bold" font-size="26.12" letter-spacing="0.00" word-spacing="0.00" textLength="13.78" lengthAdjust="spacingAndGlyphs" stroke="#000" stroke-width="1.60" transform="translate(633.45 473.50) rotate(0.00)">ϵ</text>
<text x="-6.33" y="7.18" font-family="Liberation Sans, sans-serif" font-weight="bold" font-size="27.20" letter-spacing="0.00" word-spacing="0.00" textLength="12.55" lengthAdjust="spacingAndGlyphs" stroke="#000" stroke-width="1.00" transform="translate(647.05 482.85) rotate(0.00)">e</text>
<g transform="translate(665.50 471.00) rotate(0.00)"><path d="M-3.00 -2.50 H3.00 M-3.00 2.50 H3.00" stroke="#000" stroke-width="3.00" stroke-linecap="round"/></g>
<text x="-9.05" y="9.53" font-family="Liberation Sans, sans-serif" font-weight="normal" font-size="27.68" letter-spacing="0.00" word-spacing="0.00" textLength="18.09" lengthAdjust="spacingAndGlyphs" stroke="#000" stroke-width="0.30" transform="translate(687.02 471.25) rotate(0.00)">0</text>
<circle cx="697.55" cy="479.40" r="1.80"/>
<text x="-9.09" y="9.53" font-family="Liberation Sans, sans-serif" font-weight="normal" font-size="28.09" letter-spacing="0.00" word-spacing="0.00" textLength="18.24" lengthAdjust="spacingAndGlyphs" stroke="#000" stroke-width="0.30" transform="translate(708.08 471.25) rotate(0.00)">5</text>
<text x="-6.81" y="6.50" font-family="Liberation Sans, sans-serif" font-weight="bold" font-size="24.61" letter-spacing="0.00" word-spacing="0.00" textLength="13.66" lengthAdjust="spacingAndGlyphs" stroke="#000" stroke-width="1.60" transform="translate(558.20 575.50) rotate(0.00)">ϵ</text>
<text x="-6.68" y="6.75" font-family="Liberation Sans, sans-serif" font-weight="bold" font-size="25.55" letter-spacing="0.00" word-spacing="0.00" textLength="13.24" lengthAdjust="spacingAndGlyphs" stroke="#000" stroke-width="1.00" transform="translate(573.75 583.40) rotate(0.00)">e</text>
<g transform="translate(594.00 572.65) rotate(0.00)"><path d="M-3.50 -2.95 H3.50 M-3.50 2.95 H3.50" stroke="#000" stroke-width="3.00" stroke-linecap="round"/></g>
<text x="-11.69" y="9.92" font-family="Liberation Sans, sans-serif" font-weight="normal" font-size="28.81" letter-spacing="0.00" word-spacing="0.00" textLength="23.38" lengthAdjust="spacingAndGlyphs" stroke="#000" stroke-width="0.30" transform="translate(615.30 572.45) rotate(0.00)">0</text>
<circle cx="628.10" cy="581.00" r="1.80"/>
<path d="M632.50 563.70 L632.50 581.20" stroke="#000" stroke-width="3.40" stroke-linecap="round"/>
<text x="-6.93" y="6.70" font-family="Liberation Sans, sans-serif" font-weight="bold" font-size="25.36" letter-spacing="0.00" word-spacing="0.00" textLength="13.90" lengthAdjust="spacingAndGlyphs" stroke="#000" stroke-width="1.60" transform="translate(1007.50 279.30) rotate(0.00)">ϵ</text>
<circle cx="1021.80" cy="275.80" r="1.80"/>
<path d="M1021.80 281.50 L1021.80 292.20" stroke="#000" stroke-width="3.30" stroke-linecap="round"/>
<g transform="translate(1034.50 276.55) rotate(0.00)"><path d="M-3.10 -2.95 H3.10 M-3.10 2.95 H3.10" stroke="#000" stroke-width="3.00" stroke-linecap="round"/></g>
<text x="-8.70" y="9.82" font-family="Liberation Sans, sans-serif" font-weight="normal" font-size="28.53" letter-spacing="0.00" word-spacing="0.00" textLength="17.39" lengthAdjust="spacingAndGlyphs" stroke="#000" stroke-width="0.30" transform="translate(1052.62 276.55) rotate(0.00)">0</text>
<circle cx="1062.85" cy="285.00" r="1.80"/>
<text x="-8.99" y="9.82" font-family="Liberation Sans, sans-serif" font-weight="normal" font-size="28.53" letter-spacing="0.00" word-spacing="0.00" textLength="18.00" lengthAdjust="spacingAndGlyphs" stroke="#000" stroke-width="0.30" transform="translate(1073.08 276.55) rotate(0.00)">9</text>
<text x="-6.76" y="7.10" font-family="Liberation Sans, sans-serif" font-weight="bold" font-size="26.88" letter-spacing="0.00" word-spacing="0.00" textLength="13.54" lengthAdjust="spacingAndGlyphs" stroke="#000" stroke-width="1.60" transform="translate(1138.45 278.90) rotate(0.00)">ϵ</text>
<text x="-6.91" y="6.99" font-family="Liberation Sans, sans-serif" font-weight="bold" font-size="26.47" letter-spacing="0.00" word-spacing="0.00" textLength="13.70" lengthAdjust="spacingAndGlyphs" stroke="#000" stroke-width="1.00" transform="translate(1150.55 286.85) rotate(0.00)">e</text>
<g transform="translate(1173.90 276.40) rotate(0.00)"><path d="M-3.60 -3.10 H3.60 M-3.60 3.10 H3.60" stroke="#000" stroke-width="3.00" stroke-linecap="round"/></g>
<text x="-8.70" y="9.82" font-family="Liberation Sans, sans-serif" font-weight="normal" font-size="28.53" letter-spacing="0.00" word-spacing="0.00" textLength="17.39" lengthAdjust="spacingAndGlyphs" stroke="#000" stroke-width="0.30" transform="translate(1190.72 276.55) rotate(0.00)">0</text>
<circle cx="1200.95" cy="285.00" r="1.80"/>
<text x="-8.99" y="9.82" font-family="Liberation Sans, sans-serif" font-weight="normal" font-size="28.53" letter-spacing="0.00" word-spacing="0.00" textLength="18.00" lengthAdjust="spacingAndGlyphs" stroke="#000" stroke-width="0.30" transform="translate(1211.17 276.55) rotate(0.00)">9</text>
<text x="-6.99" y="6.70" font-family="Liberation Sans, sans-serif" font-weight="bold" font-size="25.36" letter-spacing="0.00" word-spacing="0.00" textLength="14.02" lengthAdjust="spacingAndGlyphs" stroke="#000" stroke-width="1.60" transform="translate(1010.45 365.40) rotate(0.00)">ϵ</text>
<circle cx="1023.45" cy="361.50" r="1.80"/>
<path d="M1023.45 367.20 L1023.45 379.40" stroke="#000" stroke-width="3.30" stroke-linecap="round"/>
<g transform="translate(1041.50 363.20) rotate(0.00)"><path d="M-3.10 -3.10 H3.10 M-3.10 3.10 H3.10" stroke="#000" stroke-width="3.00" stroke-linecap="round"/></g>
<text x="-9.34" y="10.06" font-family="Liberation Sans, sans-serif" font-weight="normal" font-size="29.24" letter-spacing="0.00" word-spacing="0.00" textLength="18.67" lengthAdjust="spacingAndGlyphs" stroke="#000" stroke-width="0.30" transform="translate(1058.27 363.20) rotate(0.00)">0</text>
<circle cx="1069.05" cy="371.90" r="1.80"/>
<text x="-9.38" y="10.06" font-family="Liberation Sans, sans-serif" font-weight="normal" font-size="29.67" letter-spacing="0.00" word-spacing="0.00" textLength="18.83" lengthAdjust="spacingAndGlyphs" stroke="#000" stroke-width="0.30" transform="translate(1079.83 363.20) rotate(0.00)">5</text>
<text x="-6.99" y="6.70" font-family="Liberation Sans, sans-serif" font-weight="bold" font-size="25.36" letter-spacing="0.00" word-spacing="0.00" textLength="14.02" lengthAdjust="spacingAndGlyphs" stroke="#000" stroke-width="1.60" transform="translate(1140.45 364.30) rotate(0.00)">ϵ</text>
<text x="-6.45" y="7.14" font-family="Liberation Sans, sans-serif" font-weight="bold" font-size="27.01" letter-spacing="0.00" word-spacing="0.00" textLength="12.78" lengthAdjust="spacingAndGlyphs" stroke="#000" stroke-width="1.00" transform="translate(1154.95 372.00) rotate(0.00)">e</text>
<g transform="translate(1175.95 361.90) rotate(0.00)"><path d="M-3.45 -3.30 H3.45 M-3.45 3.30 H3.45" stroke="#000" stroke-width="3.00" stroke-linecap="round"/></g>
<text x="-8.58" y="10.02" font-family="Liberation Sans, sans-serif" font-weight="normal" font-size="29.10" letter-spacing="0.00" word-spacing="0.00" textLength="17.16" lengthAdjust="spacingAndGlyphs" stroke="#000" stroke-width="0.30" transform="translate(1195.43 361.35) rotate(0.00)">0</text>
<circle cx="1205.55" cy="370.00" r="1.80"/>
<text x="-8.62" y="10.01" font-family="Liberation Sans, sans-serif" font-weight="normal" font-size="29.52" letter-spacing="0.00" word-spacing="0.00" textLength="17.30" lengthAdjust="spacingAndGlyphs" stroke="#000" stroke-width="0.30" transform="translate(1215.68 361.35) rotate(0.00)">5</text>
<text x="-7.41" y="6.55" font-family="Liberation Sans, sans-serif" font-weight="bold" font-size="24.80" letter-spacing="0.00" word-spacing="0.00" textLength="14.86" lengthAdjust="spacingAndGlyphs" stroke="#000" stroke-width="1.60" transform="translate(1010.10 471.35) rotate(0.00)">ϵ</text>
<circle cx="1021.45" cy="467.60" r="1.80"/>
<path d="M1021.45 473.30 L1021.45 484.40" stroke="#000" stroke-width="3.30" stroke-linecap="round"/>
<g transform="translate(1045.00 469.85) rotate(0.00)"><path d="M-3.30 -3.25 H3.30 M-3.30 3.25 H3.30" stroke="#000" stroke-width="3.00" stroke-linecap="round"/></g>
<text x="-10.94" y="10.06" font-family="Liberation Sans, sans-serif" font-weight="normal" font-size="29.24" letter-spacing="0.00" word-spacing="0.00" textLength="21.87" lengthAdjust="spacingAndGlyphs" stroke="#000" stroke-width="0.30" transform="translate(1063.75 470.40) rotate(0.00)">0</text>
<circle cx="1075.90" cy="479.10" r="1.80"/>
<path d="M1080.30 461.50 L1080.30 479.30" stroke="#000" stroke-width="3.40" stroke-linecap="round"/>
<text x="-7.41" y="6.75" font-family="Liberation Sans, sans-serif" font-weight="bold" font-size="25.55" letter-spacing="0.00" word-spacing="0.00" textLength="14.86" lengthAdjust="spacingAndGlyphs" stroke="#000" stroke-width="1.60" transform="translate(1141.90 475.45) rotate(0.00)">ϵ</text>
<text x="-6.45" y="7.14" font-family="Liberation Sans, sans-serif" font-weight="bold" font-size="27.01" letter-spacing="0.00" word-spacing="0.00" textLength="12.78" lengthAdjust="spacingAndGlyphs" stroke="#000" stroke-width="1.00" transform="translate(1156.05 482.80) rotate(0.00)">e</text>
<g transform="translate(1177.40 474.00) rotate(0.00)"><path d="M-3.10 -3.50 H3.10 M-3.10 3.50 H3.10" stroke="#000" stroke-width="3.00" stroke-linecap="round"/></g>
<text x="-11.81" y="10.06" font-family="Liberation Sans, sans-serif" font-weight="normal" font-size="29.24" letter-spacing="0.00" word-spacing="0.00" textLength="23.62" lengthAdjust="spacingAndGlyphs" stroke="#000" stroke-width="0.30" transform="translate(1198.20 474.40) rotate(0.00)">0</text>
<circle cx="1211.10" cy="483.10" r="1.80"/>
<path d="M1215.50 465.50 L1215.50 483.30" stroke="#000" stroke-width="3.40" stroke-linecap="round"/>
<text x="40.26" y="778.40" font-family="Liberation Mono, monospace" font-weight="bold" font-size="28.10" letter-spacing="-0.07" stroke="#000" stroke-width="0.90">FIGURE 5:</text>
<text x="226.52" y="778.40" font-family="Liberation Mono, monospace" font-weight="normal" font-size="28.10" letter-spacing="1.13" stroke="#000" stroke-width="1.00">Steady</text>
<text x="361.11" y="778.40" font-family="Liberation Mono, monospace" font-weight="normal" font-size="28.10" letter-spacing="1.33" stroke="#000" stroke-width="1.00">state</text>
<text x="476.16" y="778.40" font-family="Liberation Mono, monospace" font-weight="normal" font-size="28.10" letter-spacing="2.53" stroke="#000" stroke-width="1.00">heat</text>
<text x="576.44" y="778.40" font-family="Liberation Mono, monospace" font-weight="normal" font-size="28.10" letter-spacing="-0.26" stroke="#000" stroke-width="1.00">loss</text>
<text x="668.61" y="778.40" font-family="Liberation Mono, monospace" font-weight="normal" font-size="28.10" letter-spacing="-0.14" stroke="#000" stroke-width="1.00">from</text>
<text x="761.12" y="778.40" font-family="Liberation Mono, monospace" font-weight="normal" font-size="28.10" letter-spacing="-0.06" stroke="#000" stroke-width="1.00">combustion</text>
<text x="952.42" y="778.40" font-family="Liberation Mono, monospace" font-weight="normal" font-size="28.10" letter-spacing="0.11" stroke="#000" stroke-width="1.00">chamber</text>
<text x="1096.11" y="778.40" font-family="Liberation Mono, monospace" font-weight="normal" font-size="28.10" letter-spacing="-0.35" stroke="#000" stroke-width="1.00">walls</text>
<text x="1203.84" y="778.40" font-family="Liberation Mono, monospace" font-weight="normal" font-size="28.10" letter-spacing="0.95" stroke="#000" stroke-width="1.00">as</text>
<text x="1262.14" y="778.40" font-family="Liberation Mono, monospace" font-weight="normal" font-size="28.10" letter-spacing="0.00" stroke="#000" stroke-width="1.00">a</text>
<text x="225.71" y="811.90" font-family="Liberation Mono, monospace" font-weight="normal" font-size="28.10" letter-spacing="0.24" stroke="#000" stroke-width="1.00">function</text>
<text x="380.22" y="811.90" font-family="Liberation Mono, monospace" font-weight="normal" font-size="28.10" letter-spacing="1.44" stroke="#000" stroke-width="1.00">of</text>
<text x="436.05" y="811.90" font-family="Liberation Mono, monospace" font-weight="normal" font-size="28.10" letter-spacing="-0.08" stroke="#000" stroke-width="1.00">various</text>
<text x="574.54" y="811.90" font-family="Liberation Mono, monospace" font-weight="normal" font-size="28.10" letter-spacing="-0.18" stroke="#000" stroke-width="1.00">parameters.</text>
<text x="782.26" y="811.90" font-family="Liberation Mono, monospace" font-weight="normal" font-size="28.10" letter-spacing="0.00" stroke="#000" stroke-width="1.00">The</text>
<text x="850.68" y="811.90" font-family="Liberation Mono, monospace" font-weight="normal" font-size="28.10" letter-spacing="-0.07" stroke="#000" stroke-width="1.00">emissivity,</text>
<text x="1054.92" y="811.90" font-family="Liberation Mono, monospace" font-weight="normal" font-size="28.10" letter-spacing="-2.39" stroke="#000" stroke-width="1.00">ϵ,</text>
<text x="1110.44" y="811.90" font-family="Liberation Mono, monospace" font-weight="normal" font-size="28.10" letter-spacing="-1.14" stroke="#000" stroke-width="1.00">is</text>
<text x="1162.91" y="811.90" font-family="Liberation Mono, monospace" font-weight="normal" font-size="28.10" letter-spacing="0.09" stroke="#000" stroke-width="1.00">defined</text>
<text x="227.74" y="844.80" font-family="Liberation Mono, monospace" font-weight="normal" font-size="28.10" letter-spacing="0.00" stroke="#000" stroke-width="1.00">in</text>
<text x="276.50" y="844.80" font-family="Liberation Mono, monospace" font-weight="normal" font-size="28.10" letter-spacing="-0.31" stroke="#000" stroke-width="1.00">Appendix</text>
<text x="426.65" y="844.80" font-family="Liberation Mono, monospace" font-weight="normal" font-size="28.10" letter-spacing="0.36" stroke="#000" stroke-width="1.00">C.</text>
</g></svg>
</body></html>
